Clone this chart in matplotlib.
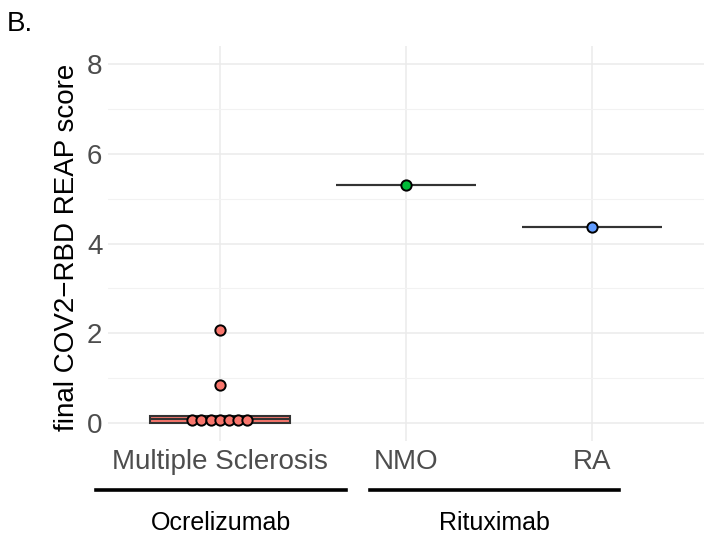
import numpy as np
import matplotlib
matplotlib.use('Agg')
import matplotlib.pyplot as plt

plt.rcParams['font.family'] = ['Liberation Sans', 'DejaVu Sans']

# data
diseases = ['Multiple Sclerosis', 'NMO', 'RA']
drugs = ['Ocrelizumab', 'Rituximab']
drug_of_disease = ['Ocrelizumab', 'Rituximab', 'Rituximab']
ms_scores = [0.0, 0.0, 0.0, 0.05, 0.10, 0.15, 0.16, 0.85, 2.07]
nmo_scores = [5.30]
ra_scores = [4.36]
colors = ['#F8766D', '#00BA38', '#619CFF']

scores = [ms_scores, nmo_scores, ra_scores]

fig = plt.figure(figsize=(7.11, 5.4), dpi=100)
ax = fig.add_axes([108 / 711, 99 / 540, 596 / 711, 395 / 540])

# boxplots
for i, vals in enumerate(scores):
    ax.boxplot(vals, positions=[i], widths=0.75, patch_artist=True,
               showfliers=False, whis=1.5,
               boxprops=dict(facecolor=colors[i], edgecolor='#333333', linewidth=1.5),
               medianprops=dict(color='#333333', linewidth=1.5),
               whiskerprops=dict(color='#333333', linewidth=1.5),
               capprops=dict(linewidth=0), zorder=2)


# dotplot style stacking (bins along y, dots centered horizontally)
def dot_bins(vals, binwidth):
    vals = sorted(vals)
    bins = []
    cur = [vals[0]]
    for v in vals[1:]:
        if v - cur[0] < binwidth:
            cur.append(v)
        else:
            bins.append(cur)
            cur = [v]
    bins.append(cur)
    return bins


dx = 0.049
for i, vals in enumerate(scores):
    for b in dot_bins(vals, 0.2):
        n = len(b)
        xs = [i + (k - (n - 1) / 2) * dx for k in range(n)]
        ys = [np.mean(b)] * n
        ax.scatter(xs, ys, s=55, color=colors[i], edgecolor='black',
                   linewidth=1.4, zorder=3, clip_on=False)

ax.set_xlim(-0.6, 2.6)
ax.set_ylim(-0.4, 8.4)
ax.set_yticks([0, 2, 4, 6, 8])
ax.set_yticks([1, 3, 5, 7], minor=True)
ax.set_xticks(range(len(diseases)))
ax.set_xticklabels(diseases)
ax.tick_params(axis='both', which='both', length=0, labelsize=20,
               labelcolor='#4D4D4D')
ax.tick_params(axis='x', pad=6)
ax.tick_params(axis='y', pad=4)
ax.grid(True, which='major', color='#EBEBEB', linewidth=1.1)
ax.grid(True, which='minor', axis='y', color='#F2F2F2', linewidth=0.8)
ax.set_axisbelow(True)
for s in ax.spines.values():
    s.set_visible(False)

ax.set_ylabel('final COV2\u2212RBD REAP score', fontsize=20, color='black')
ax.yaxis.set_label_coords(-0.047, 0.49)

# nested drug axis below the disease labels
spans = [(96, 346), (370, 619)]
for name, (x0, x1) in zip(drugs, spans):
    fig.add_artist(plt.Line2D([x0 / 711, x1 / 711], [1 - 490 / 540] * 2,
                              color='black', linewidth=2.6))
    fig.text((x0 + x1) / 2 / 711, 1 - 523 / 540, name, fontsize=18,
             ha='center', va='center', color='black')

fig.text(7 / 711, 1 - 24 / 540, 'B.', fontsize=20, ha='left', va='center')

fig.savefig('out.png', dpi=100)
